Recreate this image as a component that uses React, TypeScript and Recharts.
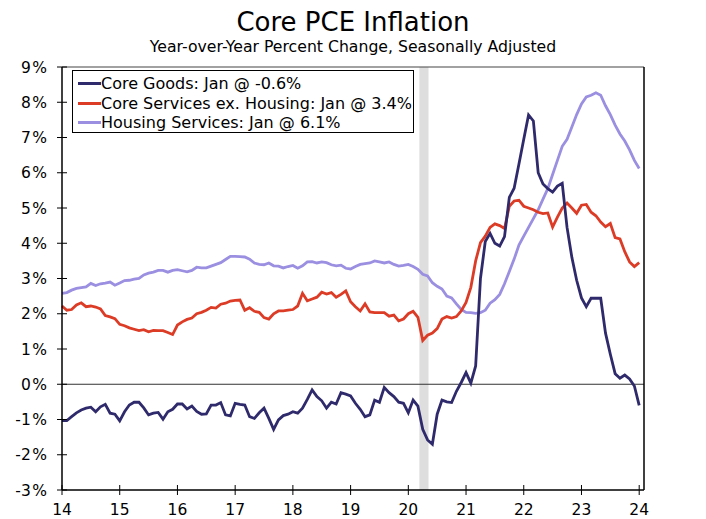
import {
  Line,
  LineChart,
  ReferenceArea,
  ReferenceLine,
  XAxis,
  YAxis,
} from "recharts";

// monthly, Jan 2014 .. Jan 2024 (year-over-year % change)
const coreGoods = [
  -1.03, -1.03, -0.92, -0.81, -0.73, -0.68, -0.65, -0.78, -0.64, -0.57, -0.82, -0.85,
  -1.04, -0.78, -0.59, -0.51, -0.51, -0.67, -0.87, -0.82, -0.8, -0.99, -0.78, -0.71,
  -0.56, -0.56, -0.7, -0.62, -0.77, -0.85, -0.84, -0.59, -0.59, -0.52, -0.87, -0.9,
  -0.54, -0.57, -0.59, -0.92, -0.97, -0.81, -0.68, -0.97, -1.28, -1.01, -0.89, -0.85,
  -0.78, -0.82, -0.68, -0.43, -0.16, -0.35, -0.47, -0.68, -0.51, -0.56, -0.24, -0.28,
  -0.33, -0.54, -0.71, -0.92, -0.87, -0.45, -0.51, -0.09, -0.24, -0.35, -0.51, -0.54,
  -0.81, -0.45, -0.62, -1.28, -1.58, -1.7, -0.85, -0.45, -0.5, -0.52, -0.2, 0.05,
  0.33, 0.03, 0.52, 3.0, 4.05, 4.28, 4.0, 3.92, 4.19, 5.3, 5.56, 6.25,
  6.95, 7.64, 7.47, 6.0, 5.68, 5.55, 5.45, 5.62, 5.7, 4.45, 3.6, 2.95,
  2.45, 2.2, 2.44, 2.44, 2.44, 1.45, 0.85, 0.3, 0.17, 0.26, 0.15, -0.05,
  -0.6,
];

const coreServicesExHousing = [
  2.22, 2.1, 2.12, 2.25, 2.31, 2.2, 2.22, 2.19, 2.14, 1.95, 1.91, 1.86,
  1.7, 1.66, 1.6, 1.56, 1.52, 1.55, 1.49, 1.53, 1.52, 1.52, 1.47, 1.41,
  1.68, 1.77, 1.84, 1.88, 2.0, 2.04, 2.1, 2.18, 2.16, 2.27, 2.3, 2.36,
  2.38, 2.39, 2.1, 2.17, 2.07, 2.04, 1.89, 1.85, 2.0, 2.08, 2.08, 2.1,
  2.12, 2.22, 2.58, 2.37, 2.42, 2.47, 2.61, 2.56, 2.6, 2.47, 2.55, 2.65,
  2.34, 2.2, 2.08, 2.28, 2.05, 2.03, 2.03, 2.03, 1.93, 1.96, 1.8, 1.85,
  2.0, 2.07, 1.9, 1.24, 1.39, 1.45, 1.58, 1.85, 1.92, 1.88, 1.92, 2.08,
  2.32, 2.75, 3.5, 4.02, 4.2, 4.45, 4.55, 4.5, 4.42, 5.05, 5.2, 5.22,
  5.05, 5.0, 4.95, 4.88, 4.84, 4.86, 4.46, 4.74, 5.0, 5.14, 5.0, 4.85,
  5.08, 5.1, 4.88, 4.78, 4.6, 4.47, 4.56, 4.16, 4.12, 3.76, 3.47, 3.34,
  3.45,
];

const housingServices = [
  2.58, 2.6, 2.67, 2.72, 2.74, 2.76, 2.86, 2.8, 2.85, 2.87, 2.9, 2.81,
  2.87, 2.94, 2.95, 2.98, 3.0, 3.1, 3.15, 3.18, 3.23, 3.23, 3.18, 3.23,
  3.25, 3.22, 3.19, 3.23, 3.32, 3.3, 3.3, 3.35, 3.4, 3.45, 3.54, 3.63,
  3.63, 3.62, 3.61, 3.55, 3.44, 3.4, 3.39, 3.44, 3.36, 3.35, 3.3, 3.34,
  3.37, 3.29, 3.36, 3.47, 3.48, 3.44, 3.47, 3.45, 3.39, 3.36, 3.38, 3.29,
  3.27, 3.34, 3.4, 3.42, 3.44, 3.5, 3.47, 3.44, 3.47, 3.4, 3.35, 3.37,
  3.4, 3.34, 3.26, 3.12, 3.07, 2.88, 2.78, 2.7, 2.5, 2.45, 2.28, 2.12,
  2.04, 2.03, 2.01, 2.03, 2.1, 2.3, 2.4, 2.55, 2.85, 3.2, 3.55, 3.95,
  4.2, 4.45, 4.7, 4.95, 5.25, 5.55, 5.95, 6.35, 6.75, 6.95, 7.3, 7.65,
  7.95, 8.15, 8.2, 8.27, 8.2, 7.9, 7.65, 7.35, 7.1, 6.9, 6.65, 6.35,
  6.12,
];

const yearLabels = ["14", "15", "16", "17", "18", "19", "20", "21", "22", "23", "24"];
const yTicks = [-3, -2, -1, 0, 1, 2, 3, 4, 5, 6, 7, 8, 9];
// recession shading, in months since Jan 2014
const recession = [74.3, 76.2];

const legendItems = [
  { key: "goods", label: "Core Goods: Jan @ -0.6%", color: "#2e2a6b" },
  { key: "services", label: "Core Services ex. Housing: Jan @ 3.4%", color: "#dc3b26" },
  { key: "housing", label: "Housing Services: Jan @ 6.1%", color: "#9a8fe0" },
];

const FONT = "'DejaVu Sans', Verdana, sans-serif";

const chartData = housingServices.map((_, i) => ({
  m: i,
  goods: coreGoods[i],
  services: coreServicesExHousing[i],
  housing: housingServices[i],
}));

function XTick({ x, y, payload }: any) {
  return (
    <g>
      <line x1={x} x2={x} y1={y - 5} y2={y + 5} stroke="#000" />
      <text x={x} y={y + 25} textAnchor="middle" fontSize={15.5} fontFamily={FONT} fill="#000">
        {yearLabels[payload.value / 12]}
      </text>
    </g>
  );
}

function YTickLeft({ x, y, payload }: any) {
  return (
    <g>
      <line x1={x - 5} x2={x + 5} y1={y} y2={y} stroke="#000" />
      <text x={x - 15} y={y + 5.5} textAnchor="end" fontSize={15.5} fontFamily={FONT} fill="#000">
        {payload.value}
        <tspan dx={1.5}>%</tspan>
      </text>
    </g>
  );
}

function YTickRight({ x, y, payload }: any) {
  return (
    <g>
      <line x1={x - 3} x2={x + 5} y1={y} y2={y} stroke="#000" />
      <text x={x + 15} y={y + 5.5} textAnchor="start" fontSize={15.5} fontFamily={FONT} fill="#000">
        {payload.value}
        <tspan dx={1.5}>%</tspan>
      </text>
    </g>
  );
}

function LegendBox() {
  return (
    <div
      style={{
        position: "absolute",
        left: 72,
        top: 70,
        width: 342,
        height: 63,
        border: "1px solid #000",
        background: "#fff",
        padding: "3px 0 0 5px",
        boxSizing: "border-box",
        fontFamily: FONT,
        fontSize: 16,
        lineHeight: "19.5px",
      }}
    >
      {legendItems.map((it) => (
        <div key={it.key} style={{ display: "flex", alignItems: "center", whiteSpace: "nowrap" }}>
          <span style={{ display: "inline-block", width: 23, height: 3, background: it.color }} />
          <span>{it.label}</span>
        </div>
      ))}
    </div>
  );
}

export default function App() {
  return (
    <div
      style={{
        position: "absolute",
        left: 0,
        top: 0,
        width: 706,
        height: 519,
        background: "#fff",
        fontFamily: FONT,
      }}
    >
      <div
        style={{
          position: "absolute",
          top: 7,
          left: 0,
          width: 706,
          textAlign: "center",
          fontSize: 26,
          lineHeight: "30px",
        }}
      >
        Core PCE Inflation
      </div>
      <div
        style={{
          position: "absolute",
          top: 38,
          left: 0,
          width: 706,
          textAlign: "center",
          fontSize: 15.7,
          lineHeight: "18px",
        }}
      >
        Year-over-Year Percent Change, Seasonally Adjusted
      </div>
      <div style={{ position: "absolute", left: 0, top: 0 }}>
        <LineChart
          width={706}
          height={519}
          data={chartData}
          margin={{ top: 67, right: 0, bottom: 0, left: 0 }}
        >
          <ReferenceArea
            yAxisId="l"
            x1={recession[0]}
            x2={recession[1]}
            y1={-3}
            y2={9}
            fill="#dedede"
            fillOpacity={1}
            stroke="none"
          />
          <XAxis
            dataKey="m"
            type="number"
            domain={[0, 121]}
            ticks={yearLabels.map((_, i) => i * 12)}
            interval={0}
            height={29}
            tickSize={0}
            tickMargin={0}
            tick={<XTick />}
            axisLine={{ stroke: "#000", strokeWidth: 1.5 }}
          />
          <YAxis
            yAxisId="l"
            orientation="left"
            width={62}
            domain={[-3, 9]}
            ticks={yTicks}
            interval={0}
            tickSize={0}
            tickMargin={0}
            tick={<YTickLeft />}
            axisLine={{ stroke: "#000", strokeWidth: 1.5 }}
          />
          <YAxis
            yAxisId="r"
            orientation="right"
            width={62}
            domain={[-3, 9]}
            ticks={yTicks}
            interval={0}
            tickSize={0}
            tickMargin={0}
            tick={<YTickRight />}
            axisLine={{ stroke: "#000", strokeWidth: 1.5 }}
          />
          <ReferenceLine yAxisId="l" y={9} stroke="#444" strokeWidth={1.2} />
          <ReferenceLine yAxisId="l" y={0} stroke="#333" strokeWidth={1} />
          <Line
            yAxisId="l"
            dataKey="housing"
            stroke="#9a8fe0"
            strokeWidth={2.8}
            dot={false}
            isAnimationActive={false}
          />
          <Line
            yAxisId="l"
            dataKey="services"
            stroke="#dc3b26"
            strokeWidth={2.8}
            dot={false}
            isAnimationActive={false}
          />
          <Line
            yAxisId="l"
            dataKey="goods"
            stroke="#2e2a6b"
            strokeWidth={2.8}
            dot={false}
            isAnimationActive={false}
          />
        </LineChart>
      </div>
      <LegendBox />
    </div>
  );
}
